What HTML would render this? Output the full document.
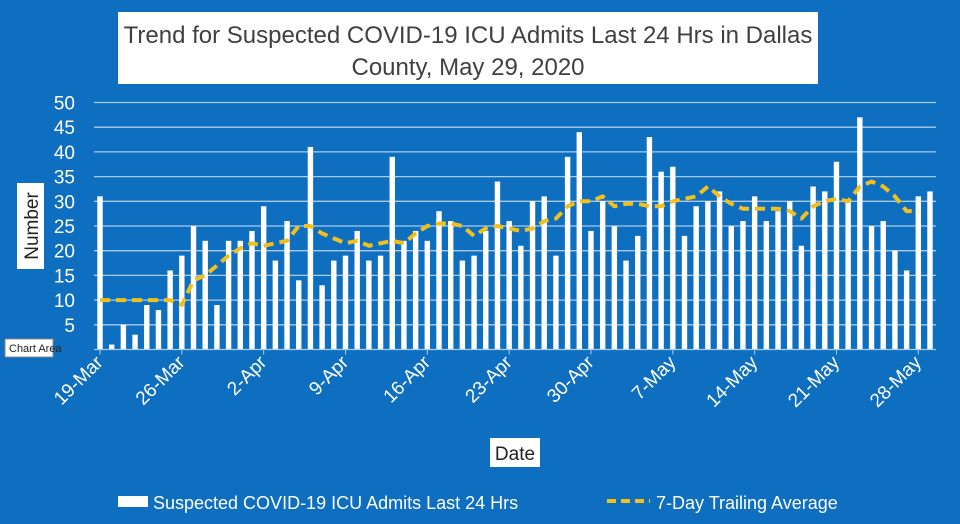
<!DOCTYPE html>
<html><head><meta charset="utf-8"><style>
body{margin:0;width:960px;height:524px;overflow:hidden;background:#0e6ebf;font-family:"Liberation Sans",sans-serif}
svg{display:block}
</style></head><body>
<svg id="chart" width="960" height="524">
<rect x="0" y="0" width="960" height="524" fill="#0e6ebf"/>
<rect x="118" y="12" width="700" height="72" fill="#fff"/>
<text x="468" y="43" text-anchor="middle" font-size="24" fill="#404040">Trend for Suspected COVID-19 ICU Admits Last 24 Hrs in Dallas</text>
<text x="468" y="75" text-anchor="middle" font-size="24" fill="#404040">County, May 29, 2020</text>
<g id="grid"></g><g id="bars"></g><g id="line"></g><g id="axes"></g>
<rect x="17" y="183" width="27" height="86" fill="#fff"/>
<text transform="translate(38,226) rotate(-90)" text-anchor="middle" font-size="19" fill="#222">Number</text>
<rect x="5" y="339" width="48" height="18" fill="#fff" stroke="#888"/>
<text x="9" y="352" font-size="11" fill="#222">Chart Area</text>
<rect x="490" y="438" width="50" height="29" fill="#fff"/>
<text x="515" y="460" text-anchor="middle" font-size="19" fill="#222">Date</text>
<g>
<rect x="118" y="496" width="30" height="11" fill="#fff"/>
<text x="153" y="509" font-size="18" fill="#fff">Suspected COVID-19 ICU Admits Last 24 Hrs</text>
<line x1="607" y1="501" x2="650" y2="501" stroke="#f2c01c" stroke-width="4" stroke-dasharray="9,5"/>
<text x="656" y="509" font-size="18" fill="#fff">7-Day Trailing Average</text>
</g>
</svg>
<script>
const counts=[31,1,5,3,9,8,16,19,25,22,9,22,22,24,29,18,26,14,41,13,18,19,24,18,19,39,22,24,22,28,26,18,19,24,34,26,21,30,31,19,39,44,24,30,25,18,23,43,36,37,23,29,30,32,25,26,31,26,28,30,21,33,32,38,30,47,25,26,20,16,31,32];
const avg=[10,10,10,10,10,10,10,9,14,15,17,19,20.5,21.5,21,21.5,22,25,25,23.5,22.5,21.5,22,21,21.5,22,21.5,23.5,25,25.5,25.5,25,23,24.5,25,24.5,24,24.5,26,26.5,29,30,30,31,29,29.5,29.5,29,29,30,30.5,31,33,31,29.5,28.5,28.5,28.5,28.5,28,26.5,29,30,30.5,30,33,34,33,31,28,28];
const yTicks=[5,10,15,20,25,30,35,40,45,50];
const xLabels=["19-Mar","26-Mar","2-Apr","9-Apr","16-Apr","23-Apr","30-Apr","7-May","14-May","21-May","28-May"];
const x0=100,step=11.69,y0=349.5,py=4.94;
const X=i=>x0+i*step, Y=v=>y0-v*py;
const NS="http://www.w3.org/2000/svg";
function mk(t,a,p){const e=document.createElementNS(NS,t);for(const k in a)e.setAttribute(k,a[k]);p.appendChild(e);return e;}
const g=document.getElementById('grid'),b=document.getElementById('bars'),l=document.getElementById('line'),ax=document.getElementById('axes');
yTicks.forEach(v=>{
 const ln=mk('line',{x1:94,x2:936,y1:Y(v),y2:Y(v),stroke:'#a9cbea','stroke-width':1.3},g);
 
 
 const t=mk('text',{x:75,y:Y(v)+7,'text-anchor':'end','font-size':19,fill:'#fff'},ax);t.textContent=v;
 
 
});
const base=mk('line',{x1:94,x2:936,y1:y0,y2:y0,stroke:'#a9cbea','stroke-width':1.3},ax);


counts.forEach((v,i)=>{
 const r=mk('rect',{x:X(i)-2.7,y:Y(v),width:5.4,height:v*py,fill:'#fff'},b);
 
 
});
const pl=mk('polyline',{points:avg.map((v,i)=>X(i)+','+Y(v)).join(' '),fill:'none',stroke:'#f2c01c','stroke-width':4,'stroke-dasharray':'10,6','stroke-linejoin':'round'},l);


xLabels.forEach((s,k)=>{
 const x=X(k*7);
 const tk=mk('line',{x1:x,x2:x,y1:y0,y2:y0+5,stroke:'#a9cbea'},ax);
 
 
 const t=mk('text',{transform:`translate(${x+4},${y0+14}) rotate(-45)`,'text-anchor':'end','font-size':19,fill:'#fff'},ax);t.textContent=s;
 
 
});
</script>
</body></html>
